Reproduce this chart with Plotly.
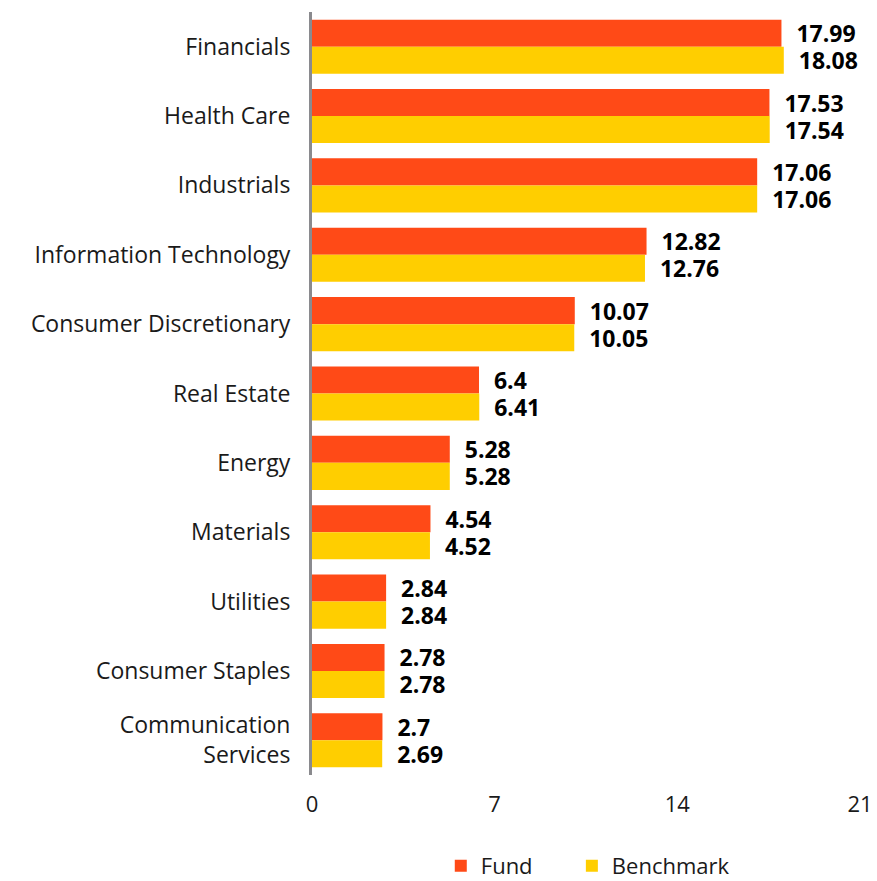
import plotly.graph_objects as go

# Sector weights (%), fund vs. benchmark
sectors = [
    "Financials", "Health Care", "Industrials", "Information Technology",
    "Consumer Discretionary", "Real Estate", "Energy", "Materials",
    "Utilities", "Consumer Staples", "Communication<br>Services",
]
fund = [17.99, 17.53, 17.06, 12.82, 10.07, 6.4, 5.28, 4.54, 2.84, 2.78, 2.7]
benchmark = [18.08, 17.54, 17.06, 12.76, 10.05, 6.41, 5.28, 4.52, 2.84, 2.78, 2.69]
x_ticks = [0, 7, 14, 21]

FONT = "Open Sans"
label_font = dict(family=FONT, size=23, color="#000000", weight="bold")
PAD = "\u00a0" * 6  # extra space after the first legend entry

fig = go.Figure()
fig.add_trace(go.Bar(
    name="Fund" + PAD, y=sectors, x=fund, orientation="h",
    marker=dict(color="#FF4A17", line=dict(width=0)),
    texttemplate="\u00a0\u00a0%{x}", textposition="outside",
    textfont=label_font, cliponaxis=False, constraintext="none",
))
fig.add_trace(go.Bar(
    name="Benchmark", y=sectors, x=benchmark, orientation="h",
    marker=dict(color="#FFCE00", line=dict(width=0)),
    texttemplate="\u00a0\u00a0%{x}", textposition="outside",
    textfont=label_font, cliponaxis=False, constraintext="none",
))

fig.update_layout(
    width=877, height=881,
    paper_bgcolor="white", plot_bgcolor="white",
    barmode="group", bargap=0.22, bargroupgap=0,
    margin=dict(l=312, r=17, t=12, b=106, autoexpand=False),
    font=dict(family=FONT, size=23, color="#1a1a1a"),
    showlegend=True,
    legend=dict(
        orientation="h", x=0.235, xanchor="left",
        yref="container", y=0.017, yanchor="middle",
        font=dict(family=FONT, size=22, color="#1a1a1a"),
        traceorder="normal",
    ),
    xaxis=dict(
        range=[0, 21], tickvals=x_ticks, showgrid=False, zeroline=False,
        showline=False, ticks="", tickfont=dict(size=22, color="#1a1a1a"),
        ticklabelstandoff=14, automargin=False,
    ),
    yaxis=dict(
        autorange="reversed", showgrid=False, zeroline=False,
        showline=True, linecolor="#8a8a8e", linewidth=3, ticks="",
        ticklabelstandoff=14, tickfont=dict(size=23, color="#1a1a1a"),
        automargin=False,
    ),
)

fig.write_html("out.html")
